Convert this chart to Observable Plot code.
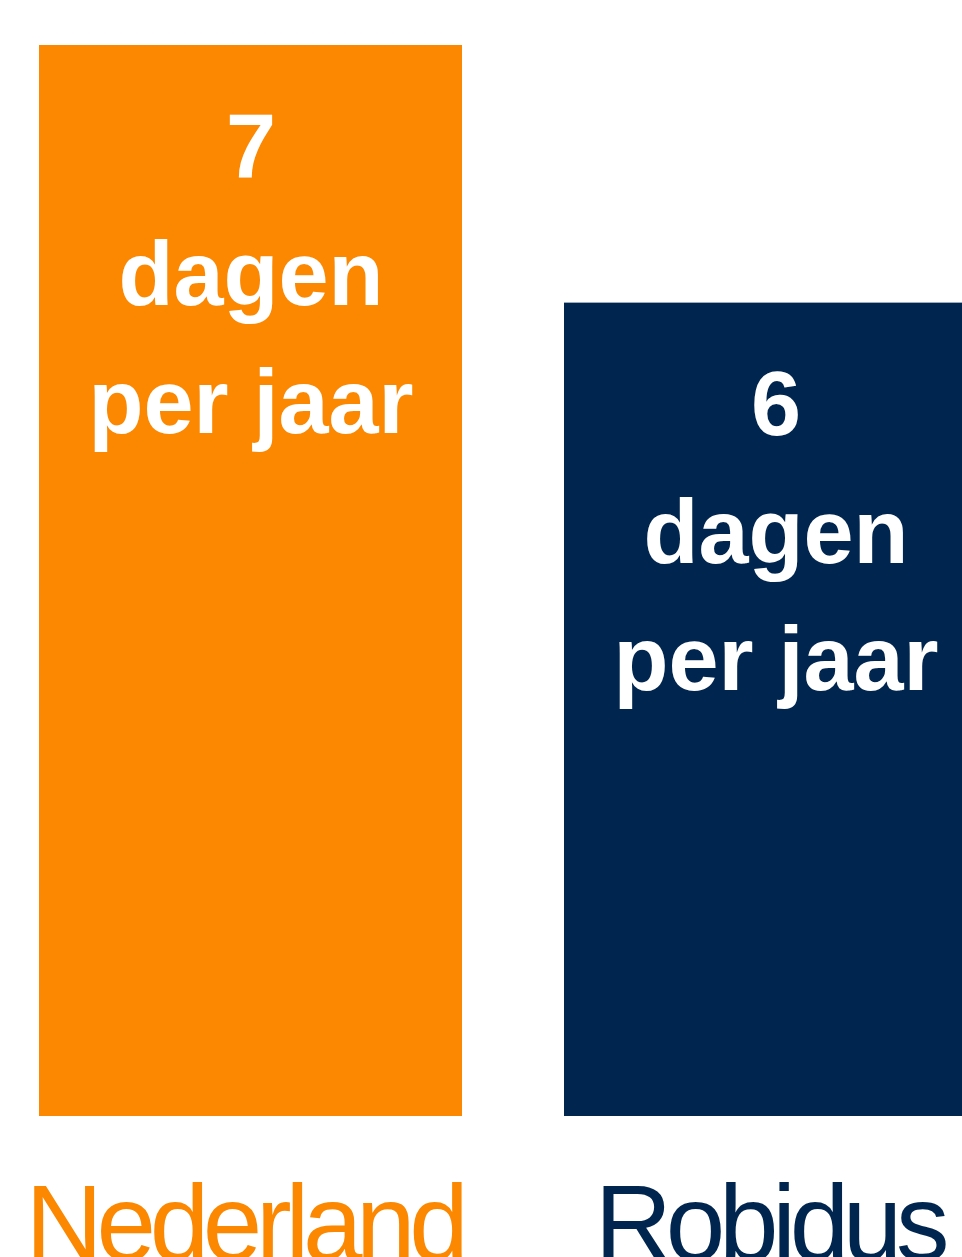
<!DOCTYPE html>
<html>
<head>
<meta charset="utf-8">
<script src="https://cdn.jsdelivr.net/npm/d3@7"></script>
<script src="https://cdn.jsdelivr.net/npm/@observablehq/plot@0.6"></script>
<style>
  html, body { margin: 0; padding: 0; background: #fff; overflow: hidden; }
  #chart { width: 962px; height: 1257px; overflow: hidden; }
</style>
</head>
<body>
<div id="chart"></div>
<script>
// Data
const categories = ["Nederland", "Robidus"];
const values = [7.4, 5.62];            // bar heights (estimated)
const rounded = ["7", "6"];            // label numbers
const unitLines = ["dagen", "per jaar"];
const colors = ["#fb8800", "#00254f"];

const data = categories.map((c, i) => ({
  category: c,
  value: values[i],
  label: [rounded[i], ...unitLines].join("\n"),
  color: colors[i]
}));

const chart = Plot.plot({
  width: 1026,
  height: 1257,
  marginLeft: 38,
  marginRight: 38,
  marginTop: 45,
  marginBottom: 141,
  style: { maxWidth: "none", overflow: "visible", background: "#fff" },
  x: { domain: categories, axis: null, paddingInner: 0.1939, paddingOuter: 0 },
  y: { domain: [0, 7.4], axis: null },
  color: { type: "identity" },
  marks: [
    Plot.barY(data, { x: "category", y: "value", fill: "color" }),
    Plot.text(data, {
      x: "category", y: "value", text: "label",
      lineAnchor: "top", dy: 41, lineHeight: 1.42,
      fontSize: 90, fontWeight: "bold", fill: "white",
      fontFamily: "Liberation Sans, Arial, sans-serif"
    }),
    Plot.text(data, {
      x: "category", y: () => 0, text: "category",
      lineAnchor: "bottom", dy: 143, dx: -7,
      fontSize: 107, fill: "color",
      fontFamily: "Liberation Sans, Arial, sans-serif",
      className: "catlabel"
    })
  ]
});

d3.select(chart).selectAll("g.catlabel").selectAll("text").attr("letter-spacing", "-6.3px");
document.getElementById("chart").appendChild(chart);
</script>
</body>
</html>
